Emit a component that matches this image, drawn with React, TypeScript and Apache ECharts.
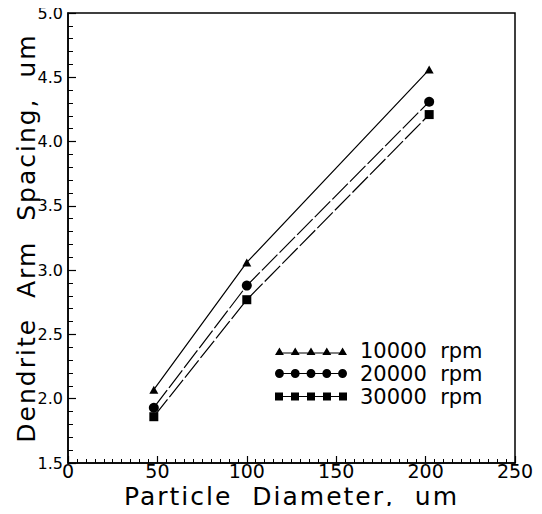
import React, { useEffect, useRef } from "react";
import * as echarts from "echarts";

const diameters = [48, 100, 202];
const rpm10000 = [2.07, 3.06, 4.56];
const rpm20000 = [1.93, 2.88, 4.31];
const rpm30000 = [1.86, 2.77, 4.21];
const seriesNames = ["10000  rpm", "20000  rpm", "30000  rpm"];
const xTicks = { min: 0, max: 250, interval: 50 };
const yTicks = { min: 1.5, max: 5.0, interval: 0.5 };

const centers = [4, 20, 36, 52, 68];
const corners = "M0 0 L0 0 Z M72 10 L72 10 Z ";
function connectors(half: number, y0: number, y1: number) {
  let d = "";
  for (let i = 0; i < centers.length - 1; i++) {
    const a = centers[i] + half;
    const b = centers[i + 1] - half;
    d += `M${a} ${y0} H${b} V${y1} H${a} Z `;
  }
  return d;
}
const triIcon =
  "path://" +
  corners +
  centers.map((c) => `M${c - 4.5} 9.5 L${c} 2 L${c + 4.5} 9.5 Z `).join("") +
  connectors(2.5, 7, 8);
const circIcon =
  "path://" +
  corners +
  centers
    .map((c) => `M${c - 4.5} 5 A4.5 4.5 0 1 1 ${c + 4.5} 5 A4.5 4.5 0 1 1 ${c - 4.5} 5 Z `)
    .join("") +
  connectors(4.2, 4.5, 5.5);
const sqIcon =
  "path://" +
  corners +
  centers.map((c) => `M${c - 4} 1 H${c + 4} V9 H${c - 4} Z `).join("") +
  connectors(3.8, 4.5, 5.5);

const FONT = "DejaVu Sans";

export default function App() {
  const ref = useRef<HTMLDivElement>(null);
  useEffect(() => {
    if (!ref.current) return;
    const chart = echarts.init(ref.current, undefined, { renderer: "svg" });
    const mk = (vals: number[]) => diameters.map((x, i) => [x, vals[i]]);
    chart.setOption({
      animation: false,
      backgroundColor: "#fff",
      grid: {
        left: 68,
        right: 27,
        top: 13,
        bottom: 51,
        containLabel: false,
        outerBoundsMode: "none",
        show: true,
        borderColor: "#000",
        borderWidth: 1.5,
        backgroundColor: "transparent",
      },
      legend: {
        orient: "vertical",
        left: 270,
        top: 335,
        itemWidth: 72,
        itemHeight: 10,
        itemGap: 2,
        itemStyle: { color: "#000", borderWidth: 0 },
        textStyle: {
          fontFamily: FONT,
          fontSize: 21,
          lineHeight: 21,
          color: "#000",
          padding: [0, 0, 0, 8],
        },
        data: [
          { name: seriesNames[0], icon: triIcon },
          { name: seriesNames[1], icon: circIcon },
          { name: seriesNames[2], icon: sqIcon },
        ],
        selectedMode: false,
      },
      xAxis: {
        type: "value",
        min: xTicks.min,
        max: xTicks.max,
        interval: xTicks.interval,
        name: "Particle  Diameter,  um",
        nameLocation: "middle",
        nameGap: 21,
        nameMoveOverlap: false,
        nameTextStyle: { fontFamily: FONT, fontSize: 25, color: "#000" },
        axisLine: { show: true, lineStyle: { color: "#000", width: 1.5 } },
        axisTick: { show: true, inside: true, length: 7, lineStyle: { color: "#000", width: 1.2 } },
        minorTick: { show: true, splitNumber: 10, length: 4, lineStyle: { color: "#000", width: 1 } },
        splitLine: { show: false },
        axisLabel: { fontFamily: FONT, fontSize: 19, color: "#000", margin: -2 },
      },
      yAxis: {
        type: "value",
        min: yTicks.min,
        max: yTicks.max,
        interval: yTicks.interval,
        name: "Dendrite  Arm  Spacing,  um",
        nameLocation: "middle",
        nameGap: 29,
        nameMoveOverlap: false,
        nameTextStyle: { fontFamily: FONT, fontSize: 25, color: "#000" },
        axisLine: { show: true, lineStyle: { color: "#000", width: 1.5 } },
        axisTick: { show: true, inside: true, length: 8, lineStyle: { color: "#000", width: 1.2 } },
        minorTick: { show: true, splitNumber: 5, length: 5, lineStyle: { color: "#000", width: 1 } },
        splitLine: { show: false },
        axisLabel: {
          fontFamily: FONT,
          fontSize: 16,
          color: "#000",
          margin: 5,
          formatter: (v: number) => v.toFixed(1),
        },
      },
      series: [
        {
          name: seriesNames[0],
          type: "line",
          data: mk(rpm10000),
          symbol: "triangle",
          symbolSize: [9, 8],
          color: "#000",
          lineStyle: { color: "#000", width: 1.2, type: "solid" },
          itemStyle: { color: "#000" },
        },
        {
          name: seriesNames[1],
          type: "line",
          data: mk(rpm20000),
          symbol: "circle",
          symbolSize: 10,
          color: "#000",
          lineStyle: { color: "#000", width: 1.2, type: [22, 3] },
          itemStyle: { color: "#000" },
        },
        {
          name: seriesNames[2],
          type: "line",
          data: mk(rpm30000),
          symbol: "rect",
          symbolSize: 9,
          color: "#000",
          lineStyle: { color: "#000", width: 1.2, type: [22, 3] },
          itemStyle: { color: "#000" },
        },
      ],
    });
    return () => chart.dispose();
  }, []);
  return (
    <>
      <style>{`#chartbox text[style*="25px"]{letter-spacing:2px}`}</style>
      <div id="chartbox" ref={ref} style={{ width: 542, height: 514, margin: -8 }} />
    </>
  );
}
